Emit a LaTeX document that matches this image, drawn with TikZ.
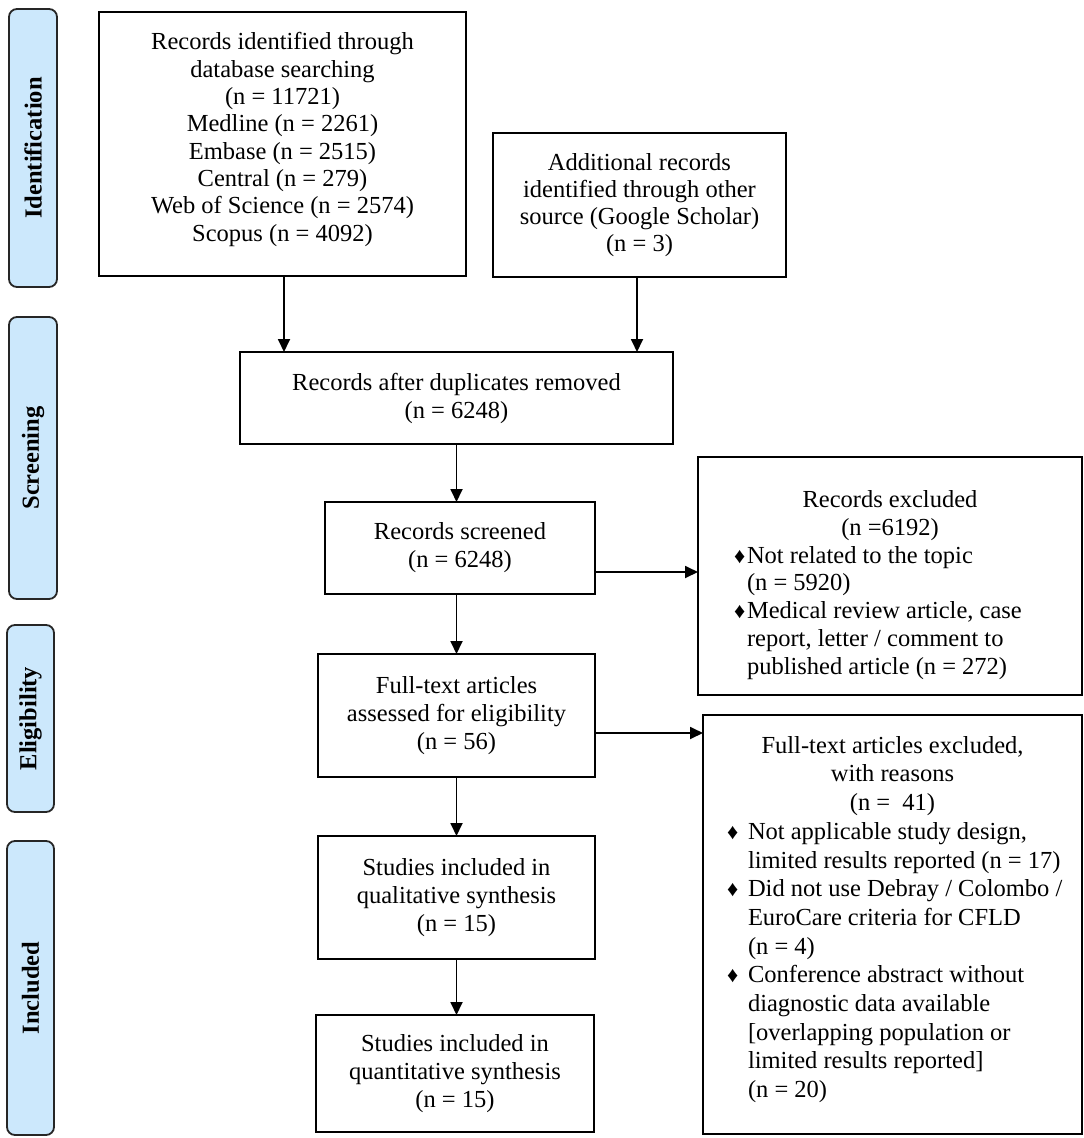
\documentclass[tikz,border=0pt]{standalone}
\usepackage{fontspec}
\setmainfont{Liberation Serif}
\usetikzlibrary{arrows.meta}
\definecolor{sidefill}{RGB}{204,232,252}
\newcommand{\dia}{{\fontsize{22}{22}\selectfont ♦}}
\begin{document}
\begin{tikzpicture}[x=1pt,y=-1pt,
  box/.style={draw, line width=1.7pt, inner sep=0pt, outer sep=0pt, align=center,
    font=\fontsize{24.5}{28}\selectfont},
  side/.style={draw=black!85, line width=1.8pt, fill=sidefill, rounded corners=8pt,
    inner sep=0pt, outer sep=0pt, font=\fontsize{24.5}{28}\selectfont\bfseries},
  arr/.style={line width=1.8pt, -{Triangle[length=13pt,width=12pt]}},
  txt/.style={inner sep=0pt, outer sep=0pt, align=left}]
\useasboundingbox (0,0) rectangle (1084,1138);

% side labels
\node[side, minimum width=278pt, minimum height=48pt, rotate=90] (s1) at (33,148) {Identification};
\node[side, minimum width=282pt, minimum height=48pt, rotate=90] (s2) at (33,458) {Screening};
\node[side, minimum width=187pt, minimum height=47pt, rotate=90] (s3) at (30.5,718.5) {Eligibility};
\node[side, minimum width=294pt, minimum height=47pt, rotate=90] (s4) at (30.5,988) {Included};

% boxes
\node[box, minimum width=367pt, minimum height=264pt] (b1) at (282.5,144) {};
\node[txt, align=center, font=\fontsize{24.5}{27.3}\selectfont] (b1t) at ([yshift=4.5pt]b1.center)
  {Records identified through\\database searching\\(n = 11721)\\Medline (n = 2261)\\Embase (n = 2515)\\Central (n = 279)\\Web of Science (n = 2574)\\Scopus (n = 4092)};

\node[box, minimum width=293pt, minimum height=144pt, font=\fontsize{24.5}{27}\selectfont] (b2) at (639.5,205)
  {Additional records\\identified through other\\source (Google Scholar)\\(n = 3)};

\node[box, minimum width=433pt, minimum height=92pt] (b3) at (456.5,398)
  {Records after duplicates removed\\(n = 6248)};

\node[box, minimum width=270pt, minimum height=92pt] (b4) at (460,548)
  {Records screened\\(n = 6248)};

\node[box, minimum width=384pt, minimum height=238pt] (b5) at (890,576) {};
\node[txt, font=\fontsize{24.5}{27.7}\selectfont] (b5t) at ([yshift=-9pt]b5.center) {%
  \makebox[312pt][c]{Records excluded}\\
  \makebox[312pt][c]{(n =6192)}\\
  \makebox[312pt][l]{\makebox[13pt][l]{\dia}Not related to the topic}\\
  \makebox[312pt][l]{\hspace*{13pt}(n = 5920)}\\
  \makebox[312pt][l]{\makebox[13pt][l]{\dia}Medical review article, case}\\
  \makebox[312pt][l]{\hspace*{13pt}report, letter / comment to}\\
  \makebox[312pt][l]{\hspace*{13pt}published article (n = 272)}};

\node[box, minimum width=277pt, minimum height=123pt] (b6) at (456.5,715.5)
  {Full-text articles\\assessed for eligibility\\(n = 56)};

\node[box, minimum width=379pt, minimum height=419pt] (b7) at (892.5,924.5) {};
\node[txt, font=\fontsize{24.5}{28.7}\selectfont] (b7t) at ([yshift=5pt]b7.center) {%
  \makebox[331pt][c]{Full-text articles excluded,}\\
  \makebox[331pt][c]{with reasons}\\
  \makebox[331pt][c]{(n =\ \ 41)}\\
  \makebox[331pt][l]{\makebox[21pt][l]{\dia}Not applicable study design,}\\
  \makebox[331pt][l]{\hspace*{21pt}limited results reported (n = 17)}\\
  \makebox[331pt][l]{\makebox[21pt][l]{\dia}Did not use Debray / Colombo /}\\
  \makebox[331pt][l]{\hspace*{21pt}EuroCare criteria for CFLD}\\
  \makebox[331pt][l]{\hspace*{21pt}(n = 4)}\\
  \makebox[331pt][l]{\makebox[21pt][l]{\dia}Conference abstract without}\\
  \makebox[331pt][l]{\hspace*{21pt}diagnostic data available}\\
  \makebox[331pt][l]{\hspace*{21pt}[overlapping population or}\\
  \makebox[331pt][l]{\hspace*{21pt}limited results reported]}\\
  \makebox[331pt][l]{\hspace*{21pt}(n = 20)}};

\node[box, minimum width=277pt, minimum height=123pt] (b8) at (456.5,897.5)
  {Studies included in\\qualitative synthesis\\(n = 15)};

\node[box, minimum width=278pt, minimum height=117pt] (b9) at (455,1073.5)
  {Studies included in\\quantitative synthesis\\(n = 15)};

% connectors
\draw[arr] ([xshift=1.5pt]b1.south) -- ([xshift=1.5pt]b1.south |- b3.north);
\draw[arr] ([xshift=-2.5pt]b2.south) -- ([xshift=-2.5pt]b2.south |- b3.north);
\draw[arr] (b3.south) -- (b3.south |- b4.north);
\draw[arr] (b4.south -| b6.north) -- (b6.north);
\draw[arr] ([yshift=-24pt]b4.east) -- ([yshift=-24pt]b4.east -| b5.west);
\draw[arr] ([yshift=-17.5pt]b6.east) -- ([yshift=-17.5pt]b6.east -| b7.west);
\draw[arr] (b6.south) -- (b6.south |- b8.north);
\draw[arr] (b8.south) -- (b8.south |- b9.north);
\end{tikzpicture}
\end{document}
